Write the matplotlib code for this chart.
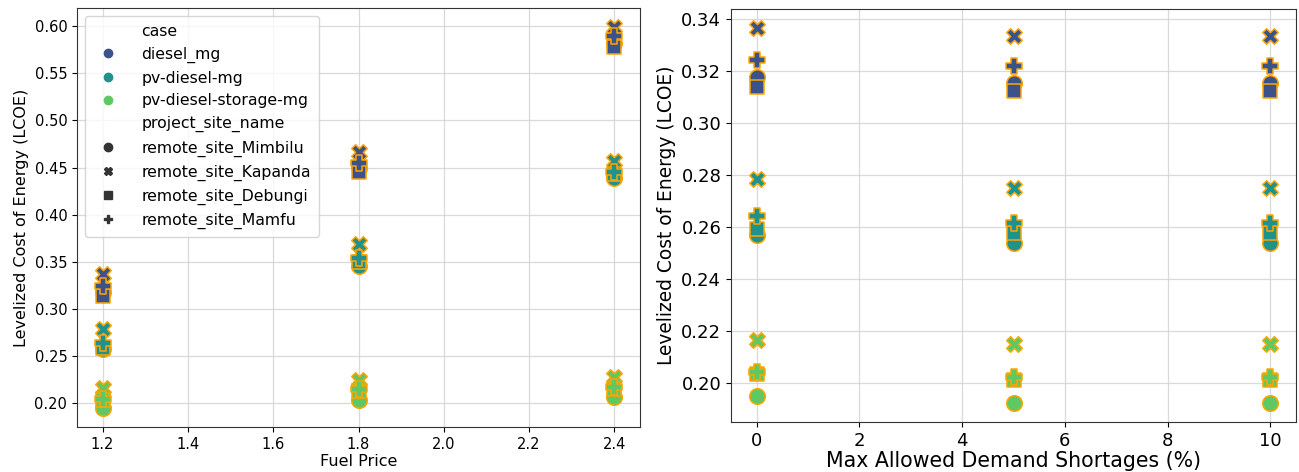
import numpy as np
import matplotlib
matplotlib.use('Agg')
import matplotlib.pyplot as plt
from matplotlib.lines import Line2D

# ── data ────────────────────────────────────────────────────────────────
cases = ['diesel_mg', 'pv-diesel-mg', 'pv-diesel-storage-mg']
sites = ['remote_site_Mimbilu', 'remote_site_Kapanda', 'remote_site_Debungi', 'remote_site_Mamfu']
markers = {'remote_site_Mimbilu': 'o', 'remote_site_Kapanda': 'X',
           'remote_site_Debungi': 's', 'remote_site_Mamfu': 'P'}
colors = {'diesel_mg': '#3b528b', 'pv-diesel-mg': '#21918c', 'pv-diesel-storage-mg': '#5ec962'}

fuel_price = [1.2, 1.8, 2.4]
# lcoe_fuel[case][site] -> values at each fuel price
lcoe_fuel = {
    'diesel_mg': {
        'remote_site_Mimbilu': [0.318, 0.449, 0.582],
        'remote_site_Kapanda': [0.337, 0.467, 0.599],
        'remote_site_Debungi': [0.314, 0.445, 0.578],
        'remote_site_Mamfu':   [0.324, 0.455, 0.589],
    },
    'pv-diesel-mg': {
        'remote_site_Mimbilu': [0.257, 0.346, 0.439],
        'remote_site_Kapanda': [0.2785, 0.369, 0.457],
        'remote_site_Debungi': [0.259, 0.350, 0.443],
        'remote_site_Mamfu':   [0.264, 0.354, 0.445],
    },
    'pv-diesel-storage-mg': {
        'remote_site_Mimbilu': [0.195, 0.203, 0.207],
        'remote_site_Kapanda': [0.2165, 0.225, 0.228],
        'remote_site_Debungi': [0.2035, 0.213, 0.215],
        'remote_site_Mamfu':   [0.2044, 0.2146, 0.217],
    },
}

shortage = [0, 5, 10]
lcoe_short = {
    'diesel_mg': {
        'remote_site_Mimbilu': [0.3178, 0.3155, 0.3155],
        'remote_site_Kapanda': [0.3367, 0.3336, 0.3336],
        'remote_site_Debungi': [0.3140, 0.3124, 0.3124],
        'remote_site_Mamfu':   [0.3242, 0.3220, 0.3220],
    },
    'pv-diesel-mg': {
        'remote_site_Mimbilu': [0.2568, 0.2540, 0.2540],
        'remote_site_Kapanda': [0.2785, 0.2751, 0.2751],
        'remote_site_Debungi': [0.2594, 0.2576, 0.2576],
        'remote_site_Mamfu':   [0.2642, 0.2614, 0.2614],
    },
    'pv-diesel-storage-mg': {
        'remote_site_Mimbilu': [0.1950, 0.1922, 0.1922],
        'remote_site_Kapanda': [0.2165, 0.2149, 0.2149],
        'remote_site_Debungi': [0.2035, 0.2011, 0.2011],
        'remote_site_Mamfu':   [0.2044, 0.2022, 0.2022],
    },
}

plt.rcParams.update({'font.family': 'DejaVu Sans'})
fig = plt.figure(figsize=(12.99, 4.72), dpi=100)
ax1 = fig.add_axes([77/1299, 1-427/472, (640-77)/1299, (427-8)/472])
ax2 = fig.add_axes([731/1299, 1-422/472, (1296-731)/1299, (422-9)/472])

msize = {'o': 125, 'X': 125, 's': 90, 'P': 125}


def draw(ax, xs, table):
    for site in sites:
        m = markers[site]
        for case in cases:
            ax.scatter(xs, table[case][site], marker=m, s=msize[m],
                       color=colors[case], edgecolors='orange', linewidths=1.1, zorder=3)
    ax.grid(True, color='#d0d0d0', lw=0.9, alpha=0.8)
    ax.set_axisbelow(True)
    for sp in ax.spines.values():
        sp.set_color('#333333')


draw(ax1, fuel_price, lcoe_fuel)
ax1.set_xticks([1.2, 1.4, 1.6, 1.8, 2.0, 2.2, 2.4])
ax1.set_xlabel('Fuel Price', fontsize=11.5, labelpad=2)
ax1.set_ylabel('Levelized Cost of Energy (LCOE)', fontsize=11.5)
ax1.tick_params(labelsize=10.5)

draw(ax2, shortage, lcoe_short)
ax2.set_xlabel('Max Allowed Demand Shortages (%)', fontsize=14.8, labelpad=1)
ax2.set_ylabel('Levelized Cost of Energy (LCOE)', fontsize=13.4)
ax2.tick_params(labelsize=13)

# seaborn-style legend with sub-headings
blank = Line2D([], [], linestyle='none')
handles, labels = [blank], ['case']
for case in cases:
    handles.append(Line2D([], [], marker='o', linestyle='none', color=colors[case], markersize=6))
    labels.append(case)
handles.append(blank); labels.append('project_site_name')
for site in sites:
    handles.append(Line2D([], [], marker=markers[site], linestyle='none', color='#333333', markersize=6))
    labels.append(site)
ax1.legend(handles, labels, loc='upper left', fontsize=11.3, handletextpad=1.1,
           labelspacing=0.5, borderpad=0.5, framealpha=0.8)

fig.savefig('out.png', dpi=100)
